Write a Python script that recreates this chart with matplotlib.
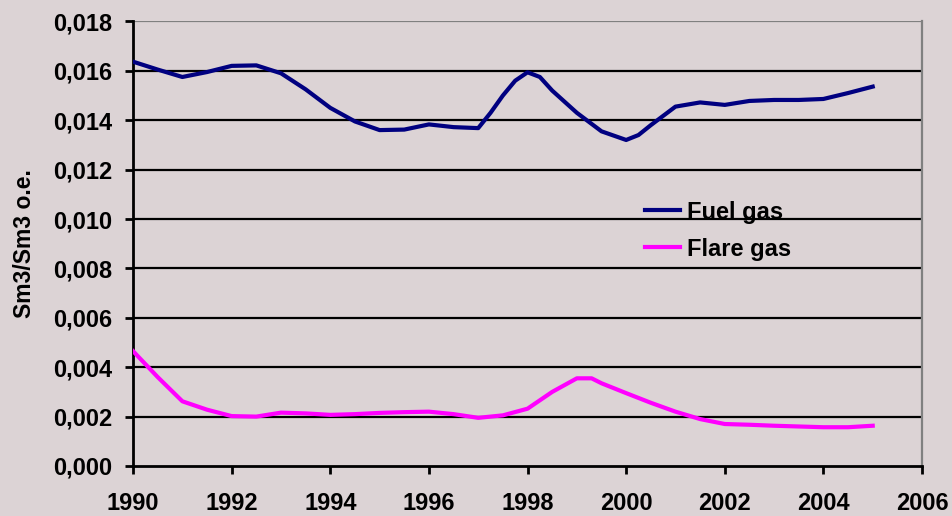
import matplotlib.pyplot as plt
from matplotlib.ticker import FuncFormatter, MultipleLocator

# values (Sm3 per Sm3 o.e.)
fuel_years = [1990, 1990.5, 1991, 1991.5, 1992, 1992.5, 1993, 1993.5, 1994, 1994.5,
              1995, 1995.5, 1996, 1996.5, 1997, 1997.25, 1997.5, 1997.75, 1998, 1998.25,
              1998.5, 1999, 1999.5, 2000, 2000.25, 2000.5, 2001, 2001.5, 2002, 2002.5,
              2003, 2003.5, 2004, 2004.5, 2005]
fuel_gas = [0.01637, 0.01605, 0.01575, 0.01595, 0.01620, 0.01622, 0.01590, 0.01525, 0.01450, 0.01395,
            0.01360, 0.01362, 0.01383, 0.01372, 0.01368, 0.01430, 0.01500, 0.01560, 0.01594, 0.01575,
            0.01520, 0.01430, 0.01355, 0.01320, 0.01340, 0.01380, 0.01455, 0.01472, 0.01462, 0.01478,
            0.01482, 0.01482, 0.01486, 0.01510, 0.01536]

flare_years = [1990, 1990.5, 1991, 1991.5, 1992, 1992.5, 1993, 1993.5, 1994, 1994.5,
               1995, 1995.5, 1996, 1996.5, 1997, 1997.5, 1998, 1998.5, 1999, 1999.3,
               1999.5, 2000, 2000.5, 2001, 2001.5, 2002, 2002.5, 2003, 2003.5, 2004,
               2004.5, 2005]
flare_gas = [0.00465, 0.00360, 0.00262, 0.00228, 0.00202, 0.00200, 0.00216, 0.00213, 0.00207, 0.00210,
             0.00215, 0.00218, 0.00220, 0.00210, 0.00195, 0.00205, 0.00232, 0.00300, 0.00355, 0.00355,
             0.00335, 0.00295, 0.00256, 0.00220, 0.00190, 0.00170, 0.00167, 0.00163, 0.00160, 0.00157,
             0.00157, 0.00163]

bg = "#dcd3d5"
plt.rcParams['font.family'] = ['Liberation Sans', 'DejaVu Sans']
plt.rcParams['font.weight'] = 'bold'

fig = plt.figure(figsize=(9.53, 5.16), dpi=100, facecolor=bg)
ax = fig.add_axes([0.1396, 0.0969, 0.8279, 0.8616], facecolor=bg)

# horizontal grid lines (top one is grey like the original)
for v in [0.002, 0.004, 0.006, 0.008, 0.010, 0.012, 0.014, 0.016]:
    ax.axhline(v, color="black", linewidth=1.6, zorder=1)
ax.axhline(0.018, color="#808080", linewidth=1.6, zorder=1)

ax.plot(fuel_years, fuel_gas, color="#000080", linewidth=3, label="Fuel gas",
        solid_joinstyle="round", zorder=3)
ax.plot(flare_years, flare_gas, color="#ff00ff", linewidth=3, label="Flare gas",
        solid_joinstyle="round", zorder=3)

ax.set_xlim(1990, 2006)
ax.set_ylim(0, 0.018)
ax.xaxis.set_major_locator(MultipleLocator(2))
ax.yaxis.set_major_locator(MultipleLocator(0.002))
ax.yaxis.set_major_formatter(FuncFormatter(lambda v, p: f"{v:.3f}".replace(".", ",")))
ax.xaxis.set_major_formatter(FuncFormatter(lambda v, p: f"{int(round(v))}"))

for side in ["left", "bottom"]:
    ax.spines[side].set_color("black")
    ax.spines[side].set_linewidth(2)
ax.spines["top"].set_visible(False)
ax.spines["right"].set_color("#808080")
ax.spines["right"].set_linewidth(1.6)

ax.tick_params(axis="both", direction="out", length=6, width=2, color="black",
               labelsize=17)
ax.tick_params(axis="y", pad=9)
ax.tick_params(axis="x", pad=13)

ax.set_ylabel("Sm3/Sm3 o.e.", fontsize=16.5, fontweight="bold", labelpad=12)

leg = fig.legend(loc="center left", bbox_to_anchor=(0.6768, 0.553), frameon=False,
                 fontsize=17, handlelength=1.5, handletextpad=0.3,
                 labelspacing=0.6, borderpad=0, borderaxespad=0)

plt.savefig("out.png", dpi=100, facecolor=bg)
